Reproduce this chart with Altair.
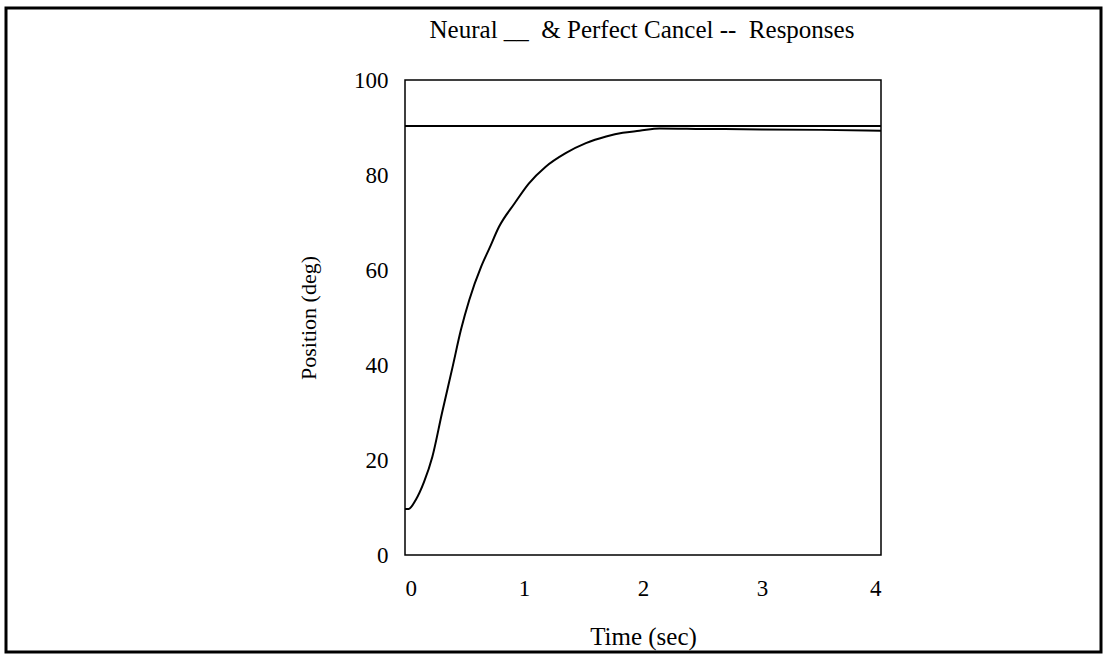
import altair as alt
import pandas as pd

# Response curve
time_sec = [0.0, 0.03, 0.09, 0.16, 0.23, 0.31, 0.40, 0.47, 0.54, 0.64, 0.71, 0.79,
            0.92, 1.04, 1.18, 1.35, 1.52, 1.69, 1.83, 1.97, 2.14, 2.5, 3.0, 3.5, 4.0]
position_deg = [9.7, 9.7, 11.6, 15.4, 20.7, 29.8, 39.6, 47.4, 53.7, 60.7, 64.6, 69.1,
                74.0, 78.2, 81.7, 84.6, 86.7, 88.1, 88.9, 89.3, 89.8, 89.7, 89.6, 89.5, 89.3]

# Perfect-cancel reference level
reference_level = [90.3]

x_ticks = [0, 1, 2, 3, 4]
y_ticks = [0, 20, 40, 60, 80, 100]

title_text = ["Neural __\u00a0 & Perfect Cancel --\u00a0 Responses"]

FONT = "Liberation Serif"
W, H = 476, 475

curve_df = pd.DataFrame({"t": time_sec, "p": position_deg})
ref_df = pd.DataFrame({"level": reference_level})
title_df = pd.DataFrame({"label": title_text})

x_scale = alt.Scale(domain=[0, 4], nice=False)
y_scale = alt.Scale(domain=[0, 100], nice=False)

curve = alt.Chart(curve_df).mark_line(color="black", strokeWidth=2, interpolate="monotone").encode(
    x=alt.X("t:Q", scale=x_scale,
            axis=alt.Axis(title="Time (sec)", values=x_ticks, grid=False, domain=False, ticks=False,
                          labelPadding=22, titlePadding=24, labelFont=FONT, labelFontSize=23,
                          titleFont=FONT, titleFontSize=25, titleFontWeight="normal",
                          labelColor="black", titleColor="black")),
    y=alt.Y("p:Q", scale=y_scale,
            axis=alt.Axis(title="Position (deg)", values=y_ticks, grid=False, domain=False, ticks=False,
                          labelPadding=17, titlePadding=33, labelFont=FONT, labelFontSize=23,
                          titleFont=FONT, titleFontSize=22, titleFontWeight="normal",
                          labelColor="black", titleColor="black")),
)

ref = alt.Chart(ref_df).mark_rule(color="black", strokeWidth=2).encode(
    y=alt.Y("level:Q", scale=y_scale)
)

outer = alt.Chart(title_df).mark_rect(fill=None, stroke="black", strokeWidth=3).encode(
    x=alt.value(-399), x2=alt.value(696), y=alt.value(-72), y2=alt.value(572)
)

title = alt.Chart(title_df).mark_text(font=FONT, fontSize=25, color="black", align="center",
                                      baseline="alphabetic").encode(
    text="label:N", x=alt.value(237), y=alt.value(-42)
)

chart = alt.layer(outer, title, ref, curve).properties(
    width=W, height=H,
    autosize=alt.AutoSizeParams(type="none"),
    padding={"left": 405, "top": 80, "right": 224, "bottom": 101},
).configure(background="white").configure_view(stroke="black", strokeWidth=1.5)

chart.save("out.html", embed_options={"renderer": "svg", "actions": False})
